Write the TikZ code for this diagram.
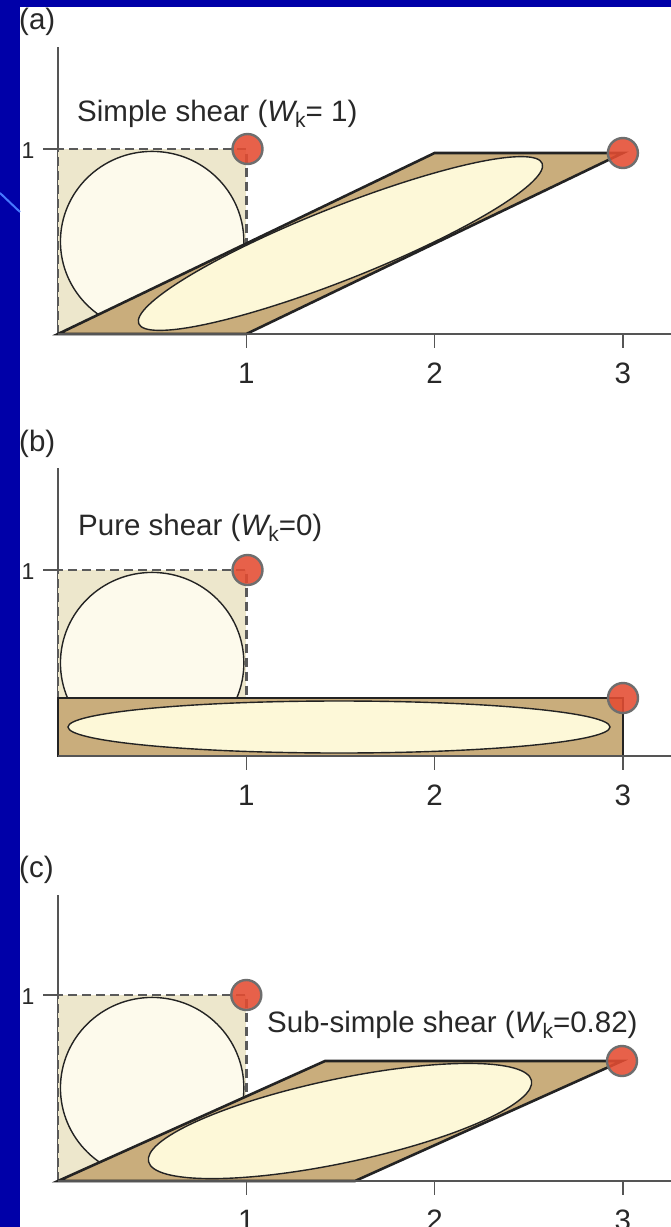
\documentclass[tikz,border=0pt]{standalone}
\usepackage{fontspec}
\setmainfont{Liberation Sans}
\definecolor{bgblue}{RGB}{0,0,168}
\definecolor{lineblue}{RGB}{70,120,255}
\definecolor{sqbeige}{RGB}{237,231,204}
\definecolor{circcream}{RGB}{253,250,236}
\definecolor{tanfill}{RGB}{201,173,124}
\definecolor{ellcream}{RGB}{253,248,216}
\definecolor{outline}{RGB}{35,35,35}
\definecolor{axisgray}{RGB}{85,85,85}
\definecolor{dashgray}{RGB}{90,90,90}
\definecolor{dotred}{RGB}{228,76,50}
\definecolor{dotgray}{RGB}{110,110,110}
\definecolor{textgray}{RGB}{40,40,40}
\newcommand{\subk}{\raisebox{-6.5pt}{\fontsize{21}{21}\selectfont k}}
\begin{document}
\begin{tikzpicture}[x=1pt,y=1pt,
  axis/.style={draw=axisgray, line width=1.6pt},
  dashedge/.style={draw=dashgray, line width=2.4pt, dash pattern=on 9pt off 5pt},
  circ/.style={fill=circcream, draw=outline, line width=1.4pt},
  para/.style={fill=tanfill, draw=outline, line width=2.6pt, line join=miter},
  ell/.style={fill=ellcream, draw=outline, line width=1.4pt},
  reddot/.style={circle, minimum size=30pt, inner sep=0pt, fill=dotred, fill opacity=0.88, draw=dotgray, line width=2.4pt},
  lbl/.style={font=\fontsize{29.5}{33}\selectfont, text=textgray, inner sep=0pt},
  ylbl/.style={font=\fontsize{23}{26}\selectfont, text=textgray, inner sep=0pt}]
\useasboundingbox (0,0) rectangle (671,-1227);
\fill[bgblue] (0,0) rectangle (671,-1227);
\fill[white] (20,-7) rectangle (671,-1227);
\draw[lineblue, line width=2pt] (0,-193) -- (20,-212);

% ---------- panel (a) ----------
\begin{scope}[shift={(58pt,-334pt)}]
  \draw[axis] (0,0) -- (0,287);
  \begin{scope}[x=188.3pt, y=185pt]
    \fill[sqbeige] (0,0) rectangle (1,1);
    \draw[dashedge] (0,0) -- (0,1) -- (1,1) -- (1,0);
    \draw[circ] (0.5,0.5) circle [radius=0.487];
  \end{scope}
  \begin{scope}[x={(188.3pt,0pt)}, y={(376.6pt,181pt)}]
    \draw[para] (0,0) -- (1,0) -- (1,1) -- (0,1) -- cycle;
    \draw[ell] (0.5,0.5) circle [radius=0.48];
  \end{scope}
  \draw[axis] (0,0) -- (613,0);
  \draw[axis] (188.3,0) -- (188.3,-14);
  \draw[axis] (376.6,0) -- (376.6,-14);
  \draw[axis] (564.9,0) -- (564.9,-14);
  \draw[axis] (-15,185) -- (0,185);
  \node[reddot] (da1) at (189.5,185) {};
  \node[reddot] (da2) at (564.9,181) {};
\end{scope}
\node[lbl, anchor=base west] (la) at (19,-29) {(a)};
\node[lbl, anchor=base west] (ta) at (77,-121) {Simple shear ({\itshape W}\subk= 1)};
\node[lbl, anchor=base] (xa1) at (246.3,-383) {1};
\node[lbl, anchor=base] (xa2) at (434.6,-383) {2};
\node[lbl, anchor=base] (xa3) at (622.9,-383) {3};
\node[ylbl, anchor=base] (ya1) at (28,-158) {1};

% ---------- panel (b) ----------
\begin{scope}[shift={(58pt,-756pt)}]
  \draw[axis] (0,0) -- (0,288);
  \begin{scope}[x=188.3pt, y=186pt]
    \fill[sqbeige] (0,0) rectangle (1,1);
    \draw[dashedge] (0,0) -- (0,1) -- (1,1) -- (1,0);
    \draw[circ] (0.5,0.5) circle [radius=0.487];
  \end{scope}
  \draw[para] (0,0) rectangle (565,58);
  \draw[ell] (281,29) ellipse [x radius=271, y radius=26];
  \draw[axis] (0,0) -- (613,0);
  \draw[axis] (188.3,0) -- (188.3,-14);
  \draw[axis] (376.6,0) -- (376.6,-14);
  \draw[axis] (564.9,0) -- (564.9,-14);
  \draw[axis] (-15,186) -- (0,186);
  \node[reddot] (db1) at (189.5,186) {};
  \node[reddot] (db2) at (565,58) {};
\end{scope}
\node[lbl, anchor=base west] (lb) at (19,-451) {(b)};
\node[lbl, anchor=base west] (tb) at (78,-535) {Pure shear ({\itshape W}\subk=0)};
\node[lbl, anchor=base] (xb1) at (246.3,-805) {1};
\node[lbl, anchor=base] (xb2) at (434.6,-805) {2};
\node[lbl, anchor=base] (xb3) at (622.9,-805) {3};
\node[ylbl, anchor=base] (yb1) at (28,-579) {1};

% ---------- panel (c) ----------
\begin{scope}[shift={(58pt,-1181pt)}]
  \draw[axis] (0,0) -- (0,286);
  \begin{scope}[x=188.3pt, y=186pt]
    \fill[sqbeige] (0,0) rectangle (1,1);
    \draw[dashedge] (0,0) -- (0,1) -- (1,1) -- (1,0);
    \draw[circ] (0.5,0.5) circle [radius=0.487];
  \end{scope}
  \begin{scope}[x={(297pt,0pt)}, y={(267pt,120pt)}]
    \draw[para] (0,0) -- (1,0) -- (1,1) -- (0,1) -- cycle;
    \draw[ell] (0.5,0.5) circle [radius=0.48];
  \end{scope}
  \draw[axis] (0,0) -- (613,0);
  \draw[axis] (188.3,0) -- (188.3,-14);
  \draw[axis] (376.6,0) -- (376.6,-14);
  \draw[axis] (564.9,0) -- (564.9,-14);
  \draw[axis] (-15,186) -- (0,186);
  \node[reddot] (dc1) at (188.3,186) {};
  \node[reddot] (dc2) at (564,120) {};
\end{scope}
\node[lbl, anchor=base west] (lc) at (19,-877) {(c)};
\node[lbl, anchor=base west] (tc) at (267,-1032) {Sub-simple shear ({\itshape W}\subk=0.82)};
\node[lbl, anchor=base] (xc1) at (246.3,-1230) {1};
\node[lbl, anchor=base] (xc2) at (434.6,-1230) {2};
\node[lbl, anchor=base] (xc3) at (622.9,-1230) {3};
\node[ylbl, anchor=base] (yc1) at (28,-1004) {1};
\end{tikzpicture}
\end{document}
